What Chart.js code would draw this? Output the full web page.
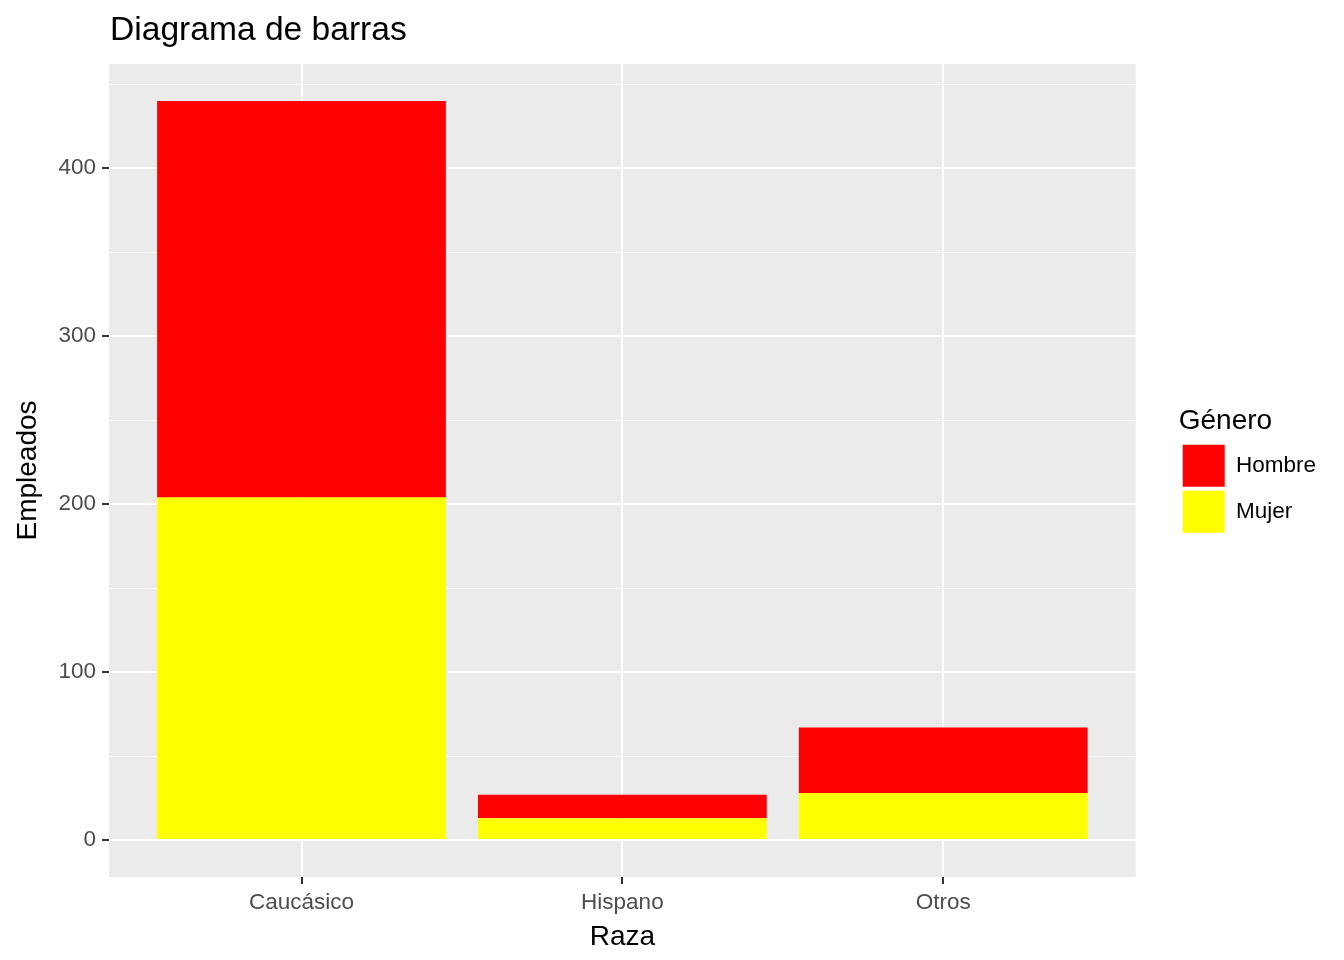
<!doctype html>
<html lang="es">

<head>
    <meta charset="utf-8">
    <title>Diagrama de barras</title>
    <style>
        * {
            margin: 0;
            padding: 0;
        }

        body {
            background: white;
        }

        .chartBox {
            width: 1344px;
            height: 960px;
        }
    </style>
</head>

<body>
    <div class="chartBox">
        <canvas id="myChart" width="1344" height="960"></canvas>
    </div>

    <script src="https://cdn.jsdelivr.net/npm/chart.js"></script>

    <script>
        // data
        const razas = ['Caucásico', 'Hispano', 'Otros'];
        const hombre = [236, 14, 39];
        const mujer = [204, 13, 28];
        const yMajor = [0, 100, 200, 300, 400];
        const yMinor = [50, 150, 250, 350, 450];

        const fontFam = '"Liberation Sans", Arial, sans-serif';

        // grey panel behind the plot + title on top left
        const panelPlugin = {
            id: 'panel',
            beforeDraw(chart) {
                const { ctx, chartArea } = chart;
                ctx.save();
                ctx.fillStyle = '#EBEBEB';
                ctx.fillRect(chartArea.left, chartArea.top, chartArea.right - chartArea.left, chartArea.bottom - chartArea.top);
                ctx.restore();
            },
            afterDraw(chart) {
                const ctx = chart.ctx;
                ctx.save();
                ctx.fillStyle = '#000';
                ctx.font = '33.6px ' + fontFam;
                ctx.textBaseline = 'alphabetic';
                ctx.fillText('Diagrama de barras', 110, 40);
                ctx.restore();
            }
        };

        const data = {
            datasets: [{
                label: 'Mujer',
                data: razas.map((r, i) => ({ x: i, y: mujer[i] })),
                backgroundColor: '#FFFF00',
                borderWidth: 0
            }, {
                label: 'Hombre',
                data: razas.map((r, i) => ({ x: i, y: hombre[i] })),
                backgroundColor: '#FF0000',
                borderWidth: 0
            }]
        };

        const config = {
            type: 'bar',
            data,
            options: {
                responsive: false,
                animation: false,
                barPercentage: 0.9,
                categoryPercentage: 1,
                layout: {
                    padding: { top: 64, right: 18, bottom: 0, left: 0 }
                },
                plugins: {
                    tooltip: { enabled: false },
                    legend: {
                        position: 'right',
                        fullSize: false,
                        reverse: true,
                        title: {
                            display: true,
                            text: 'Género',
                            color: '#000',
                            position: 'start',
                            font: { family: fontFam, size: 28 },
                            padding: { top: 3, bottom: 0 }
                        },
                        labels: {
                            color: '#000',
                            font: { family: fontFam, size: 22.5 },
                            boxWidth: 42,
                            boxHeight: 42,
                            padding: 4
                        }
                    }
                },
                scales: {
                    x: {
                        type: 'linear',
                        stacked: true,
                        offset: false,
                        min: -0.6,
                        max: 2.6,
                        afterBuildTicks: s => {
                            s.ticks = razas.map((r, i) => ({ value: i }));
                        },
                        afterFit: s => { s.height = 83; },
                        ticks: {
                            callback: v => razas[v],
                            color: '#4D4D4D',
                            font: { family: fontFam, size: 22.5 },
                            padding: 5,
                            maxRotation: 0,
                            autoSkip: false
                        },
                        grid: {
                            offset: false,
                            color: '#FFFFFF',
                            lineWidth: 2,
                            tickColor: '#333333',
                            tickLength: 7,
                            tickWidth: 2
                        },
                        border: { display: false },
                        title: {
                            display: true,
                            text: 'Raza',
                            color: '#000',
                            font: { family: fontFam, size: 28 },
                            padding: { top: 0, bottom: 6 }
                        }
                    },
                    y: {
                        stacked: true,
                        min: -22,
                        max: 462,
                        afterBuildTicks: s => {
                            s.ticks = yMajor.concat(yMinor).sort((a, b) => a - b).map(v => ({ value: v }));
                        },
                        afterFit: s => { s.width = 109; },
                        ticks: {
                            callback: v => (yMajor.includes(v) ? String(v) : ''),
                            color: '#4D4D4D',
                            font: { family: fontFam, size: 22.5 },
                            padding: 6
                        },
                        grid: {
                            color: '#FFFFFF',
                            lineWidth: ctx => (yMajor.includes(ctx.tick && ctx.tick.value) ? 2 : 1),
                            tickColor: ctx => (yMajor.includes(ctx.tick && ctx.tick.value) ? '#333333' : 'rgba(0,0,0,0)'),
                            tickLength: 7,
                            tickWidth: 2
                        },
                        border: { display: false },
                        title: {
                            display: true,
                            text: 'Empleados',
                            color: '#000',
                            font: { family: fontFam, size: 28 },
                            padding: { top: 11, bottom: 0 }
                        }
                    },
                    // empty axis, only to leave the gap between panel and legend
                    gap: {
                        type: 'linear',
                        position: 'right',
                        afterFit: s => { s.width = 43; },
                        ticks: { display: false },
                        grid: { display: false },
                        border: { display: false }
                    }
                }
            },
            plugins: [panelPlugin]
        };

        const myChart = new Chart(
            document.getElementById('myChart'),
            config
        );
    </script>

</body>

</html>
